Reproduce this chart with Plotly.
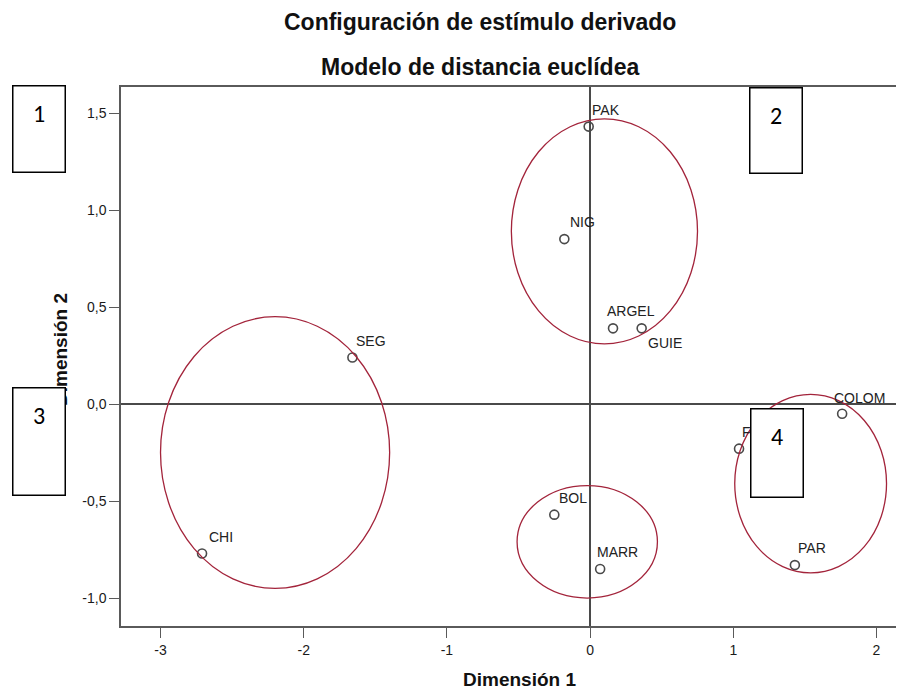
import plotly.graph_objects as go

# stimulus coordinates (Euclidean distance model)
labels = ["PAK", "NIG", "ARGEL", "GUIE", "SEG", "CHI", "BOL", "MARR", "FILIP", "COLOM", "PAR"]
dim1 = [-0.01, -0.18, 0.16, 0.36, -1.66, -2.71, -0.25, 0.07, 1.04, 1.76, 1.43]
dim2 = [1.43, 0.85, 0.39, 0.39, 0.24, -0.77, -0.57, -0.85, -0.23, -0.05, -0.83]

# axis ticks (plain hyphen as in the original)
x_ticks = [-3, -2, -1, 0, 1, 2]
x_ticktext = ["-3", "-2", "-1", "0", "1", "2"]
y_ticks = [-1.0, -0.5, 0.0, 0.5, 1.0, 1.5]
y_ticktext = ["-1,0", "-0,5", "0,0", "0,5", "1,0", "1,5"]

# groups drawn by hand around the points
group_cx = [0.10, -2.20, -0.02, 1.54]
group_cy = [0.89, -0.25, -0.71, -0.41]
group_rx = [0.65, 0.80, 0.49, 0.53]
group_ry = [0.58, 0.70, 0.29, 0.46]

# quadrant boxes
box_names = ["1", "2", "3", "4"]

FONT = "Liberation Sans, Arial, sans-serif"
# the page body has an 8px margin, so the figure is drawn 8px in from the corner
OFF = 8
W, H = 904 - OFF, 688 - OFF
L, R, T, B = 121 - OFF, 0, 87 - OFF, 62

# label offsets in pixels (text left edge / text centre vs. the marker)
label_dx = [1, 4, -8, 4, 2, 5, 3, -5, 1, -10, 1]
label_dy = [17, 17, 17, -15, 16, 16, 17, 17, 17, 16, 17]


def px_to_paper(px, py):
    # px, py are screen pixels
    px, py = px - OFF, py - OFF
    return (px - L) / (W - L - R), (H - B - py) / (H - T - B)


fig = go.Figure()
fig.add_trace(go.Scatter(
    x=dim1, y=dim2, mode="markers",
    marker=dict(symbol="circle-open", size=9, color="#4a4a4a",
                line=dict(width=1.6, color="#4a4a4a")),
    showlegend=False, cliponaxis=False,
))

for cx, cy, rx, ry in zip(group_cx, group_cy, group_rx, group_ry):
    fig.add_shape(type="circle", xref="x", yref="y",
                  x0=cx - rx, x1=cx + rx, y0=cy - ry, y1=cy + ry,
                  line=dict(color="#a3243b", width=1.3))

annotations = []
# point labels first so that the boxes cover them
for lab, x, y, dx, dy in zip(labels, dim1, dim2, label_dx, label_dy):
    annotations.append(dict(text=lab, x=x, y=y, xref="x", yref="y", showarrow=False,
                            xanchor="left", yanchor="middle", xshift=dx, yshift=dy,
                            font=dict(family=FONT, size=14, color="#222222")))

for txt, py in [("Configuración de estímulo derivado", 22), ("Modelo de distancia euclídea", 67)]:
    ax, ay = px_to_paper(480, py)
    annotations.append(dict(text="<b>%s</b>" % txt, x=ax, y=ay, xref="paper", yref="paper",
                            showarrow=False, xanchor="center", yanchor="middle",
                            font=dict(family=FONT, size=23, color="#111111")))
ax, ay = px_to_paper(519, 679)
annotations.append(dict(text="<b>Dimensión 1</b>", x=ax, y=ay, xref="paper", yref="paper",
                        showarrow=False, xanchor="center", yanchor="middle",
                        font=dict(family=FONT, size=19, color="#111111")))
ax, ay = px_to_paper(60, 350)
annotations.append(dict(text="<b>Dimensión 2</b>", x=ax, y=ay, xref="paper", yref="paper",
                        showarrow=False, xanchor="center", yanchor="middle", textangle=-90,
                        font=dict(family=FONT, size=19, color="#111111")))

# boxes: left, top screen corners
box_corners = [(12, 85), (749, 87), (12, 387), (750, 408)]
box_heights = [87, 86, 108, 89]
for name, (bx, by), bh in zip(box_names, box_corners, box_heights):
    ax, ay = px_to_paper(bx, by)
    annotations.append(dict(text=name, x=ax, y=ay, xref="paper", yref="paper",
                            showarrow=False, xanchor="left", yanchor="top",
                            width=53 - 26, height=bh - 26, valign="top", align="center",
                            borderpad=12, borderwidth=1.5, bordercolor="#000000",
                            bgcolor="#ffffff",
                            font=dict(family="Calibri, Carlito, Liberation Sans, sans-serif",
                                      size=24, color="#000000")))

fig.update_layout(
    width=W, height=H, margin=dict(l=L, r=R, t=T, b=B, autoexpand=False),
    paper_bgcolor="white", plot_bgcolor="white",
    annotations=annotations,
    font=dict(family=FONT, size=14, color="#222222"),
)
fig.update_xaxes(range=[-3.276, 2.192], tickvals=x_ticks, ticktext=x_ticktext,
                 showgrid=False, zeroline=True, zerolinecolor="#4a4a4a", zerolinewidth=2,
                 showline=True, linecolor="#5a5a5a", linewidth=1.5, mirror=True,
                 ticks="outside", ticklen=10, tickcolor="#5a5a5a", tickwidth=1.2,
                 tickfont=dict(family=FONT, size=14, color="#1a1a1a"))
fig.update_yaxes(range=[-1.144, 1.634], tickvals=y_ticks, ticktext=y_ticktext,
                 showgrid=False, zeroline=True, zerolinecolor="#4a4a4a", zerolinewidth=2,
                 showline=True, linecolor="#5a5a5a", linewidth=1.5, mirror=False,
                 ticks="outside", ticklen=10, tickcolor="#5a5a5a", tickwidth=1.2,
                 tickfont=dict(family=FONT, size=14, color="#1a1a1a"))

fig.write_html("out.html")
